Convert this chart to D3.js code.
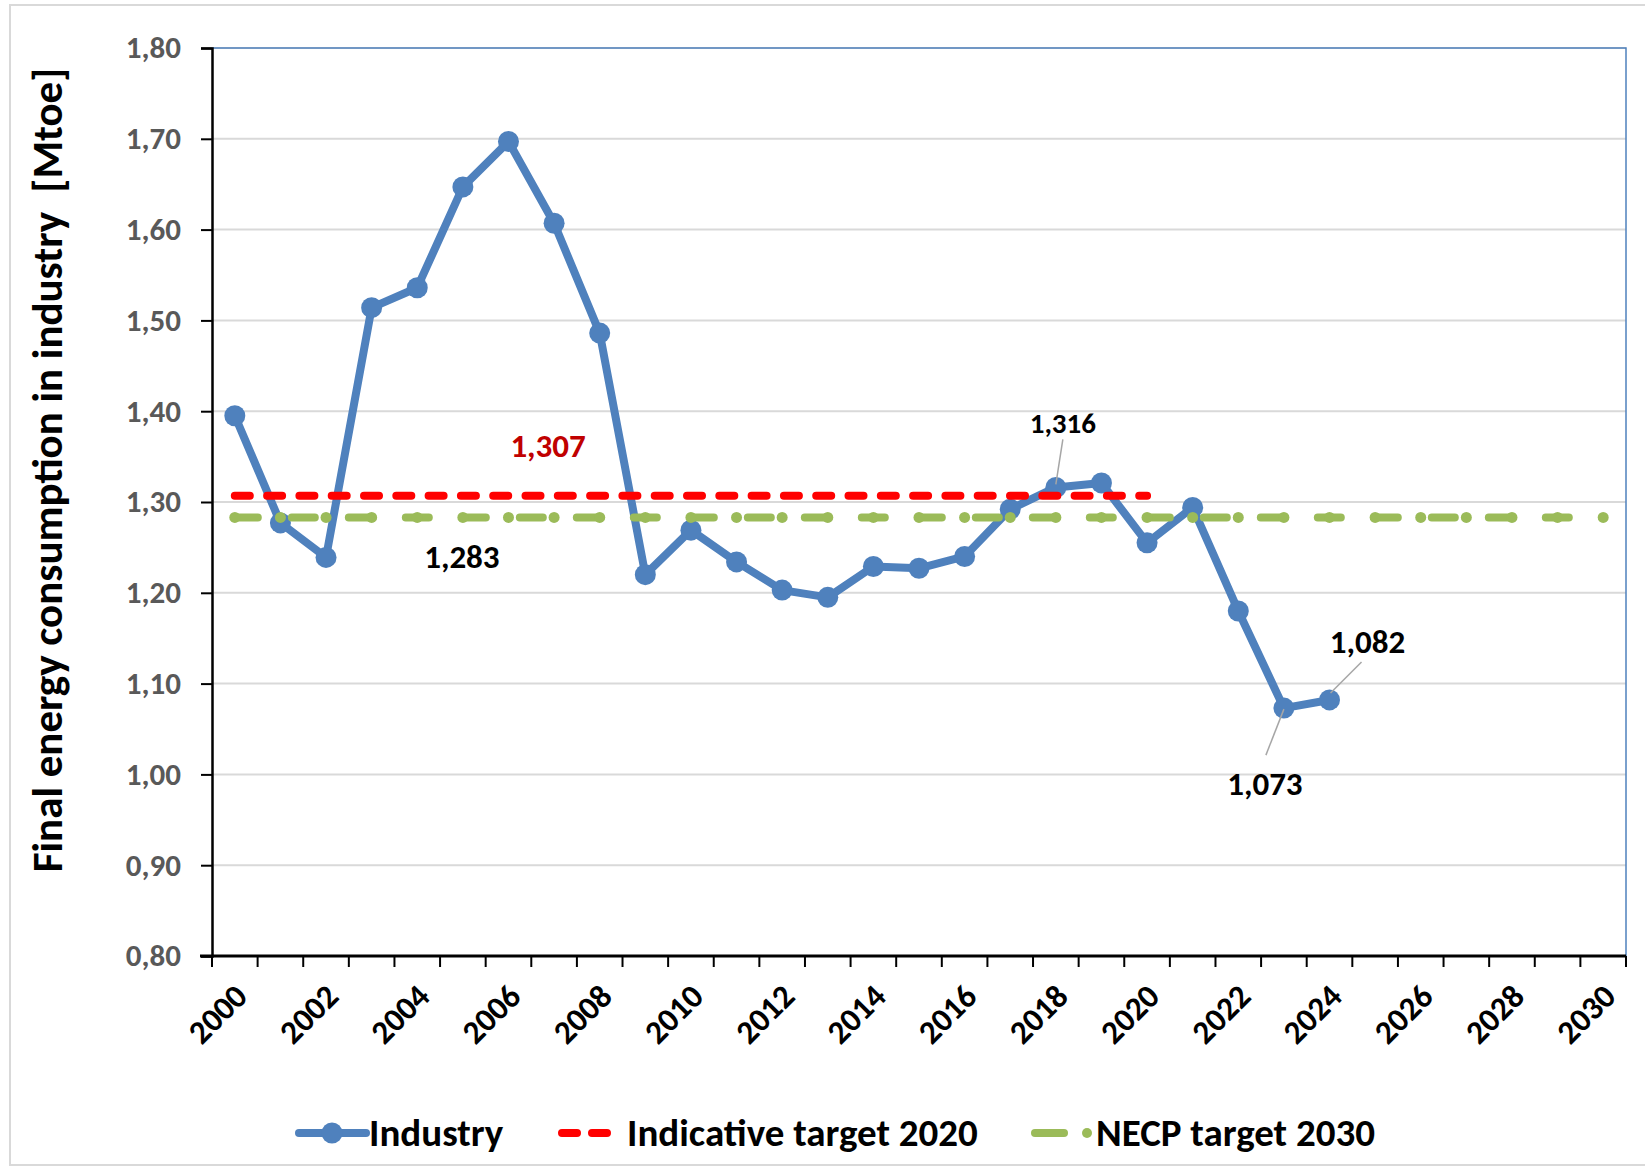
<!DOCTYPE html>
<html>
<head>
<meta charset="utf-8">
<script src="https://cdn.jsdelivr.net/npm/d3@7"></script>
<style>
  body { margin: 0; background: #fff; }
  svg { display: block; font-family: Carlito, Calibri, Lato, "Open Sans", sans-serif; font-weight: bold; }
</style>
</head>
<body>
<svg></svg>
<script>
/* data */
var years = d3.range(2000, 2031);
var tickYears = d3.range(2000, 2031, 2);
var industryYears = d3.range(2000, 2025);
var industryValues = [1.395, 1.277, 1.239, 1.514, 1.536, 1.647, 1.697, 1.607, 1.486, 1.220,
                      1.269, 1.234, 1.203, 1.195, 1.229, 1.227, 1.240, 1.292, 1.316, 1.321,
                      1.255, 1.294, 1.180, 1.073, 1.082];
var target2020Years = d3.range(2000, 2021);
var target2020Value = 1.307;
var target2030Years = d3.range(2000, 2031);
var target2030Value = 1.283;
var yTicks = [0.80, 0.90, 1.00, 1.10, 1.20, 1.30, 1.40, 1.50, 1.60, 1.70, 1.80];

/* svg setting */
var svgWidth = 1645;
var svgHeight = 1171;
var margin = {top: 48, right: 19, bottom: 215, left: 212};
var width = svgWidth - margin.left - margin.right;
var height = svgHeight - margin.top - margin.bottom;
var scale = {};

var blue = '#4F81BD', red = '#FF0000', green = '#9BBB59';
var comma = d3.formatLocale({decimal: ',', thousands: '.', grouping: [3], currency: ['', '']});
var fmt2 = comma.format('.2f');
var fmt3 = comma.format('.3f');

var svg = d3.select('svg')
    .attr('width', svgWidth)
    .attr('height', svgHeight);

// outer frame
svg.append('rect')
    .attr('x', 10).attr('y', 5)
    .attr('width', 1640).attr('height', 1160)
    .attr('fill', 'none')
    .attr('stroke', '#D9D9D9')
    .attr('stroke-width', 2);

var g = svg.append('g')
    .attr('transform', translate(margin.left, margin.top));

setScale();
drawGrid();
drawAxis();
drawIndustry();
drawTargets();
drawLabels();
drawLegend();

function setScale(){
  scale.x = d3.scaleBand()
      .domain(years)
      .range([0, width])
      .padding(0);
  scale.y = d3.scaleLinear()
      .domain([0.8, 1.8])
      .range([height, 0]);
}

function cx(year){ return scale.x(year) + scale.x.bandwidth() / 2; }

function drawGrid(){
  g.selectAll('.grid')
      .data(yTicks.slice(1))
      .enter()
      .append('line')
      .attr('class', 'grid')
      .attr('x1', 0).attr('x2', width)
      .attr('y1', function(d){ return scale.y(d); })
      .attr('y2', function(d){ return scale.y(d); })
      .attr('stroke', '#D9D9D9')
      .attr('stroke-width', 2);
  // plot area border top/right
  g.append('path')
      .attr('d', 'M0,0H' + width + 'V' + height)
      .attr('fill', 'none')
      .attr('stroke', blue)
      .attr('stroke-width', 1.5);
}

function drawAxis(){
  var yAxis = g.append('g')
      .attr('class', 'y_axis')
      .call(d3.axisLeft(scale.y).tickValues(yTicks).tickFormat(fmt2).tickSize(11).tickPadding(20));
  yAxis.select('.domain').attr('stroke', '#000').attr('stroke-width', 2.5);
  yAxis.selectAll('.tick line').attr('stroke', '#000').attr('stroke-width', 2);
  yAxis.selectAll('.tick text')
      .attr('fill', '#595959')
      .style('font-size', '31px')
      .style('font-family', 'Carlito, Calibri, Lato, sans-serif')
      .style('font-weight', 'bold');

  // x axis: ticks at category boundaries
  var xg = g.append('g')
      .attr('class', 'x_axis')
      .attr('transform', translate(0, height));
  xg.append('line')
      .attr('x1', -12).attr('x2', width)
      .attr('stroke', '#000').attr('stroke-width', 3);
  var bounds = years.map(function(y){ return scale.x(y); }).concat([width]);
  xg.selectAll('.xtick')
      .data(bounds)
      .enter()
      .append('line')
      .attr('x1', function(d){ return d; })
      .attr('x2', function(d){ return d; })
      .attr('y1', 0).attr('y2', 11)
      .attr('stroke', '#000').attr('stroke-width', 2);
  xg.selectAll('.xlabel')
      .data(tickYears)
      .enter()
      .append('text')
      .attr('text-anchor', 'end')
      .attr('transform', function(d){ return translate(cx(d) - 2, 26) + ' rotate(-45)'; })
      .attr('dy', '0.7em')
      .style('font-size', '33px')
      .attr('fill', '#000')
      .text(function(d){ return d; });

  svg.append('text')
      .attr('transform', translate(47, 470) + ' rotate(-90)')
      .attr('text-anchor', 'middle')
      .attr('dy', '0.35em')
      .style('font-size', '43px')
      .attr('fill', '#000')
      .attr('xml:space', 'preserve')
      .text('Final energy consumption in industry  [Mtoe]');
}

function drawTargets(){
  var line = d3.line()
      .x(function(d){ return cx(d.x); })
      .y(function(d){ return scale.y(d.y); });
  var greenData = target2030Years.map(function(y){ return {x: y, y: target2030Value}; });
  g.append('path')
      .datum(greenData)
      .attr('d', line)
      .attr('fill', 'none')
      .attr('stroke', green)
      .attr('stroke-width', 8)
      .attr('stroke-linecap', 'round')
      .attr('stroke-dasharray', '23,34');
  g.selectAll('.gdot')
      .data(greenData)
      .enter()
      .append('circle')
      .attr('cx', function(d){ return cx(d.x); })
      .attr('cy', function(d){ return scale.y(d.y); })
      .attr('r', 5.5)
      .attr('fill', green);
  g.append('path')
      .datum(target2020Years.map(function(y){ return {x: y, y: target2020Value}; }))
      .attr('d', line)
      .attr('fill', 'none')
      .attr('stroke', red)
      .attr('stroke-width', 8)
      .attr('stroke-linecap', 'round')
      .attr('stroke-dasharray', '15,17.3');
}

function drawIndustry(){
  var data = industryYears.map(function(y, i){ return {x: y, y: industryValues[i]}; });
  var line = d3.line()
      .x(function(d){ return cx(d.x); })
      .y(function(d){ return scale.y(d.y); });
  g.append('path')
      .datum(data)
      .attr('d', line)
      .attr('fill', 'none')
      .attr('stroke', blue)
      .attr('stroke-width', 8)
      .attr('stroke-linejoin', 'round');
  g.selectAll('.pt')
      .data(data)
      .enter()
      .append('circle')
      .attr('cx', function(d){ return cx(d.x); })
      .attr('cy', function(d){ return scale.y(d.y); })
      .attr('r', 10.5)
      .attr('fill', blue);
}

function drawLabels(){
  g.append('text')
      .attr('x', cx(2007) - 6).attr('y', scale.y(target2020Value) - 39)
      .attr('text-anchor', 'middle')
      .attr('fill', '#C00000')
      .style('font-size', '33px')
      .text(fmt3(target2020Value));
  g.append('text')
      .attr('x', cx(2005) - 1).attr('y', scale.y(target2030Value) + 51)
      .attr('text-anchor', 'middle')
      .attr('fill', '#000')
      .style('font-size', '33px')
      .text(fmt3(target2030Value));

  // data labels with leader lines: offsets from the point
  var notes = [
    {year: 2018, tx: 7, ty: -54, x1: 0, y1: -3, x2: 7, y2: -48, size: 29},
    {year: 2023, tx: -19, ty: 87, x1: 0, y1: 1, x2: -18, y2: 47, size: 33},
    {year: 2024, tx: 38, ty: -47, x1: 1, y1: -7, x2: 32, y2: -38, size: 33}
  ];
  notes.forEach(function(n){
    var i = industryYears.indexOf(n.year);
    var px = cx(n.year), py = scale.y(industryValues[i]);
    g.append('line')
        .attr('x1', px + n.x1).attr('y1', py + n.y1)
        .attr('x2', px + n.x2).attr('y2', py + n.y2)
        .attr('stroke', '#A6A6A6')
        .attr('stroke-width', 1.5);
    g.append('text')
        .attr('x', px + n.tx).attr('y', py + n.ty)
        .attr('text-anchor', 'middle')
        .attr('fill', '#000')
        .style('font-size', n.size + 'px')
        .text(fmt3(industryValues[i]));
  });
}

function drawLegend(){
  var ly = 1133;
  var lg = svg.append('g');
  lg.append('line')
      .attr('x1', 299).attr('x2', 366).attr('y1', ly).attr('y2', ly)
      .attr('stroke', blue).attr('stroke-width', 8).attr('stroke-linecap', 'round');
  lg.append('circle').attr('cx', 332).attr('cy', ly).attr('r', 10.5).attr('fill', blue);
  lg.append('text').attr('x', 369).attr('y', ly + 13).style('font-size', '39px').text('Industry');

  lg.append('line')
      .attr('x1', 562).attr('x2', 607).attr('y1', ly).attr('y2', ly)
      .attr('stroke', red).attr('stroke-width', 8).attr('stroke-linecap', 'round')
      .attr('stroke-dasharray', '15,15');
  lg.append('text').attr('x', 627).attr('y', ly + 13).style('font-size', '39px').text('Indicative target 2020');

  lg.append('line')
      .attr('x1', 1035).attr('x2', 1064).attr('y1', ly).attr('y2', ly)
      .attr('stroke', green).attr('stroke-width', 8).attr('stroke-linecap', 'round');
  lg.append('circle').attr('cx', 1087).attr('cy', ly).attr('r', 5).attr('fill', green);
  lg.append('text').attr('x', 1096).attr('y', ly + 13).style('font-size', '39px').text('NECP target 2030');
}

function translate(x, y) {
  return 'translate(' + x + ',' + y + ')';
}
</script>
</body>
</html>
